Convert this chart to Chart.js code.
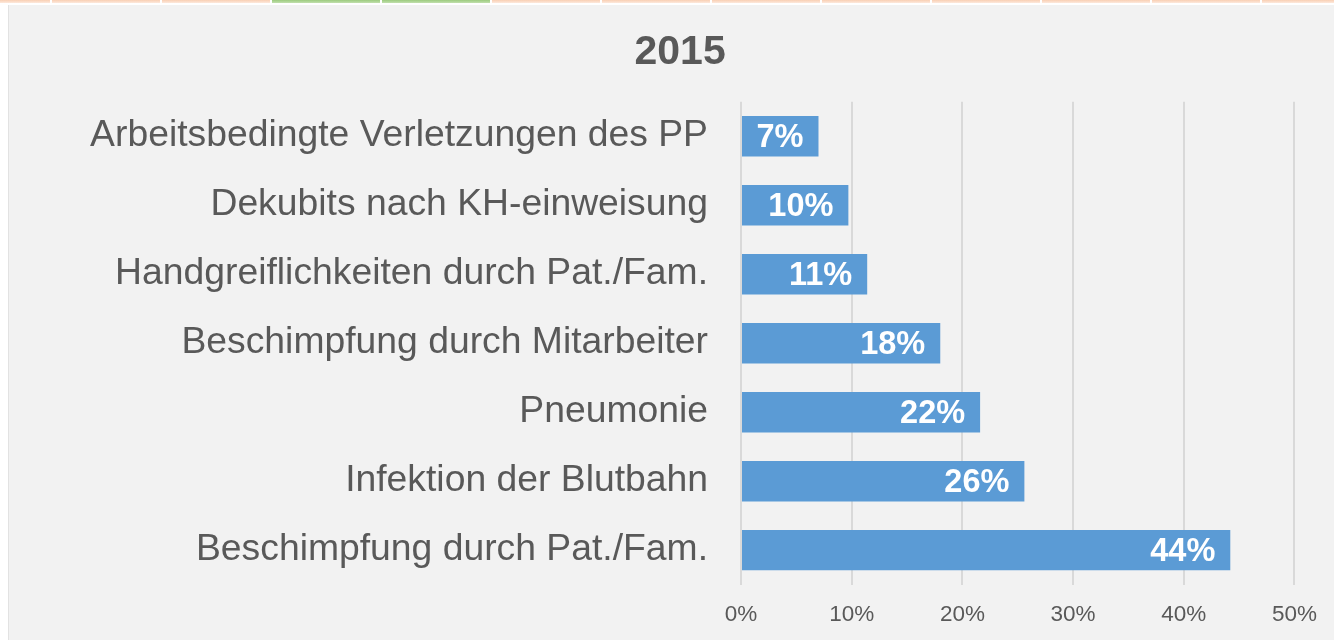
<!DOCTYPE html>
<html>
<head>
<meta charset="utf-8">
<script src="https://cdn.jsdelivr.net/npm/chart.js@4.4.1/dist/chart.umd.min.js"></script>
<style>
  html, body { margin: 0; padding: 0; background: #ffffff; width: 1334px; height: 640px; overflow: hidden; }
  #strip { position: absolute; left: 0; top: 0; width: 1334px; height: 3px; }
  .cell { position: absolute; top: 0; height: 3px; background: linear-gradient(#f9cfb4, #fde9dc); }
  .cell.green { background: linear-gradient(#9ccb7f, #c2e0ad); }
  #wrap { position: absolute; left: 8px; top: 5px; width: 1326px; height: 635px; background: #f2f2f2; box-shadow: inset 1px 0 0 #e2e2e2; }
  canvas { display: block; }
</style>
</head>
<body>
<div id="strip"></div>
<div id="wrap"><canvas id="c" width="1326" height="635"></canvas></div>
<script>
// ---- data ----
const title = '2015';
const categories = [
  'Arbeitsbedingte Verletzungen des PP',
  'Dekubits nach KH-einweisung',
  'Handgreiflichkeiten durch Pat./Fam.',
  'Beschimpfung durch Mitarbeiter',
  'Pneumonie',
  'Infektion der Blutbahn',
  'Beschimpfung durch Pat./Fam.'
];
const values = [7.0, 9.7, 11.4, 18.0, 21.6, 25.6, 44.2];
const valueLabels = ['7%', '10%', '11%', '18%', '22%', '26%', '44%'];
const xTickLabels = ['0%', '10%', '20%', '30%', '40%', '50%'];

// top strip of spreadsheet cells (decoration)
const strip = document.getElementById('strip');
const cellEdges = [0, 50, 160, 270, 380, 490, 600, 710, 820, 930, 1040, 1150, 1260, 1334];
for (let i = 0; i < cellEdges.length - 1; i++) {
  const d = document.createElement('div');
  d.className = 'cell' + ((i === 3 || i === 4) ? ' green' : '');
  d.style.left = (cellEdges[i] + (i ? 2 : 0)) + 'px';
  d.style.width = (cellEdges[i + 1] - cellEdges[i] - (i ? 2 : 0)) + 'px';
  strip.appendChild(d);
}

const FONT = '"Liberation Sans", Arial, sans-serif';
const GREY = '#595959';

const valueLabelPlugin = {
  id: 'valueLabels',
  afterDatasetsDraw(chart) {
    const ctx = chart.ctx;
    const meta = chart.getDatasetMeta(0);
    ctx.save();
    ctx.font = 'bold 32.5px ' + FONT;
    ctx.fillStyle = '#ffffff';
    ctx.textAlign = 'right';
    ctx.textBaseline = 'middle';
    meta.data.forEach((bar, i) => {
      ctx.fillText(valueLabels[i], bar.x - 15, bar.y + 1.5);
    });
    ctx.restore();
  }
};

new Chart(document.getElementById('c'), {
  type: 'bar',
  data: {
    labels: categories,
    datasets: [{
      data: values,
      backgroundColor: '#5b9bd5',
      borderWidth: 0,
      barPercentage: 1,
      categoryPercentage: 0.587
    }]
  },
  options: {
    indexAxis: 'y',
    responsive: false,
    devicePixelRatio: 1,
    animation: false,
    layout: { padding: { left: 54, right: 35.8, top: 0, bottom: 0 } },
    plugins: {
      legend: { display: false },
      tooltip: { enabled: false },
      title: {
        display: true,
        text: title,
        color: GREY,
        font: { family: FONT, size: 41, weight: 'bold' },
        padding: { top: 23, bottom: 24.5 }
      }
    },
    scales: {
      x: {
        min: 0,
        max: 50,
        afterFit(scale) { scale.height = 50.9; },
        ticks: {
          stepSize: 10,
          color: GREY,
          font: { family: FONT, size: 22.5 },
          padding: 17,
          callback: (v, i) => xTickLabels[i]
        },
        grid: { color: '#d9d9d9', lineWidth: 2, drawTicks: false },
        border: { display: false }
      },
      y: {
        afterFit(scale) { scale.width = 679; },
        ticks: {
          color: GREY,
          font: { family: FONT, size: 37.3 },
          padding: 33
        },
        grid: { display: false, drawTicks: false },
        border: { display: false }
      }
    }
  },
  plugins: [valueLabelPlugin]
});
</script>
</body>
</html>
